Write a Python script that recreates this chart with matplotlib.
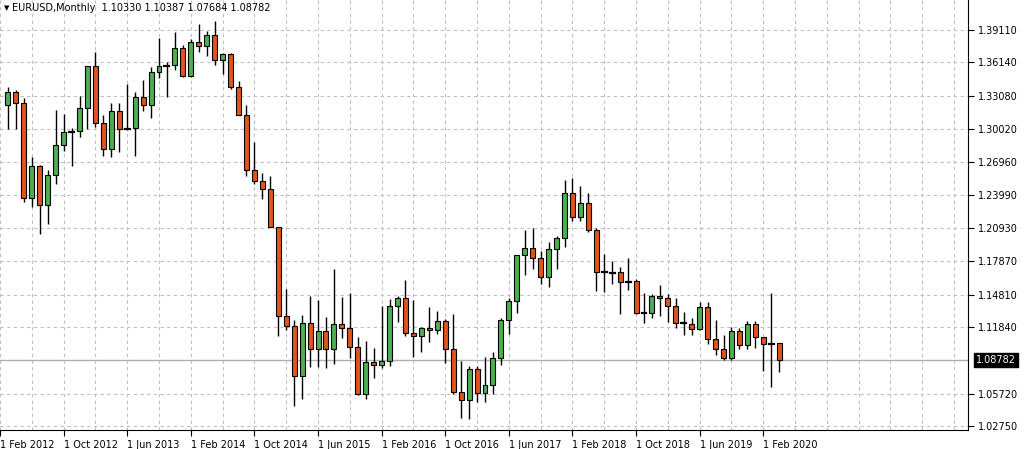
import matplotlib
matplotlib.use("Agg")
import matplotlib.pyplot as plt
from matplotlib.patches import Rectangle

# Monthly candles, Mar 2012 .. Apr 2020  (month index 1 = Mar 2012; 0 = Feb 2012)
opens = [1.3225,1.3340,1.3237,1.2365,1.2664,1.2307,1.2576,1.2859,1.2975,1.2985,
 1.3192,1.3578,1.3058,1.2815,1.3167,1.2998,1.3010,1.3300,1.3222,1.3524,1.3582,1.3590,
 1.3743,1.3486,1.3804,1.3768,1.3868,1.3634,1.3692,1.3389,1.3131,1.2629,1.2525,1.2452,
 1.2098,1.1289,1.1196,1.0731,1.1221,1.0986,1.1146,1.0985,1.1211,1.1177,1.1004,1.0566,
 1.0862,1.0831,1.0873,1.1379,1.1452,1.1131,1.1103,1.1174,1.1157,1.1241,1.0982,1.0588,
 1.0517,1.0797,1.0575,1.0652,1.0895,1.1244,1.1426,1.1842,1.1910,1.1814,1.1646,1.1904,
 1.2005,1.2414,1.2194,1.2324,1.2078,1.1693,1.1684,1.1691,1.1601,1.1604,1.1313,1.1315,
 1.1467,1.1447,1.1372,1.1218,1.1214,1.1168,1.1370,1.1076,1.0985,1.0898,1.1151,1.1017,
 1.1213,1.1093,1.1027,1.1033]
highs = [1.3385,1.3360,1.3284,1.2748,1.2668,1.2625,1.3172,1.3140,1.3010,1.3308,
 1.3579,1.3711,1.3129,1.3243,1.3242,1.3416,1.3345,1.3452,1.3568,1.3833,1.3620,1.3893,
 1.3775,1.3824,1.3967,1.3906,1.3993,1.3700,1.3700,1.3444,1.3222,1.2887,1.2601,1.2570,
 1.2105,1.1534,1.1245,1.1290,1.1467,1.1436,1.1278,1.1714,1.1460,1.1495,1.1095,1.1059,
 1.0987,1.1376,1.1438,1.1464,1.1616,1.1428,1.1186,1.1366,1.1327,1.1258,1.1300,1.0874,
 1.0829,1.0829,1.0906,1.0951,1.1268,1.1446,1.1846,1.2070,1.2092,1.1880,1.1961,1.2023,
 1.2537,1.2556,1.2476,1.2414,1.2096,1.1852,1.1790,1.1733,1.1815,1.1621,1.1500,1.1486,
 1.1570,1.1488,1.1448,1.1324,1.1264,1.1412,1.1412,1.1250,1.1109,1.1180,1.1175,1.1240,
 1.1239,1.1096,1.1495,1.1039]
lows = [1.3005,1.3000,1.2330,1.2288,1.2042,1.2134,1.2500,1.2800,1.2661,1.2927,
 1.3000,1.3020,1.2750,1.2745,1.2795,1.2995,1.2755,1.3170,1.3105,1.3470,1.3295,1.3548,
 1.3478,1.3477,1.3705,1.3673,1.3590,1.3503,1.3366,1.3130,1.2570,1.2499,1.2357,1.2098,
 1.1098,1.1160,1.0457,1.0520,1.0818,1.0819,1.0808,1.0848,1.1086,1.0896,1.0557,1.0524,
 1.0711,1.0810,1.0822,1.1233,1.1098,1.0912,1.0952,1.1045,1.1122,1.0852,1.0569,1.0352,
 1.0340,1.0494,1.0494,1.0570,1.0839,1.1119,1.1312,1.1662,1.1717,1.1574,1.1554,1.1717,
 1.1915,1.2153,1.2155,1.2055,1.1510,1.1508,1.1575,1.1301,1.1526,1.1302,1.1216,1.1269,
 1.1289,1.1234,1.1176,1.1110,1.1107,1.1160,1.1026,1.0926,1.0879,1.0880,1.0981,1.0981,
 1.0992,1.0777,1.0636,1.0768]
closes = opens[1:] + [1.08782]

price_ticks = [1.39110,1.36140,1.33080,1.30020,1.26960,1.23990,1.20930,1.17870,
               1.14810,1.11840,1.08780,1.05720,1.02750]
date_labels = ["1 Feb 2012","1 Oct 2012","1 Jun 2013","1 Feb 2014","1 Oct 2014",
               "1 Jun 2015","1 Feb 2016","1 Oct 2016","1 Jun 2017","1 Feb 2018",
               "1 Oct 2018","1 Jun 2019","1 Feb 2020"]
last_price = 1.08782
header = "EURUSD,Monthly  1.10330 1.10387 1.07684 1.08782"

W, H = 1034, 449
fig = plt.figure(figsize=(W/100, H/100), dpi=100)
fig.patch.set_facecolor("white")
ax = fig.add_axes([0, 1-430/H, 968/W, 430/H])
ax.set_facecolor("white")
ymax = 1.3911 + 30/1089
ymin = 1.3911 - 400/1089
ax.set_ylim(ymin, ymax)
ax.set_xlim(0.75, 121.75)

grid_kw = dict(color="#c0c0c0", lw=0.8, ls=(0, (3, 3)), zorder=0)
for p in price_ticks:
    ax.axhline(p, **grid_kw)
for m in range(0, 122, 4):
    ax.axvline(m, **grid_kw)
ax.axhline(last_price, color="#b0b0b0", lw=1.0, zorder=1)

bw = 5/8
for i, (o, h, l, c) in enumerate(zip(opens, highs, lows, closes)):
    m = i + 1
    ax.plot([m, m], [l, h], color="black", lw=1, zorder=2, solid_capstyle="butt")
    if abs(c - o) < 0.0012:
        ax.plot([m-bw/2, m+bw/2], [o, o], color="black", lw=1.6, zorder=3)
        continue
    col = "#4caf50" if c > o else "#e2531e"
    ax.add_patch(Rectangle((m-bw/2, min(o, c)), bw, abs(c-o), facecolor=col,
                           edgecolor="black", lw=0.8, zorder=3))

for s in ["top", "left"]:
    ax.spines[s].set_visible(False)
ax.spines["bottom"].set_color("black")
ax.spines["right"].set_color("black")
ax.yaxis.tick_right()
shown = [p for p in price_ticks if abs(p-last_price) > 0.005]
ax.set_yticks(shown)
ax.set_yticklabels([f"{p:.5f}" for p in shown])
ax.tick_params(axis="y", length=4, width=0.8, labelsize=7, pad=3, colors="black")
xt = [8*k for k in range(len(date_labels))]
ax.set_xticks(xt)
ax.set_xticklabels(date_labels, ha="left")
ax.tick_params(axis="x", length=4, width=0.8, labelsize=7, pad=3)

ax.text(1.0 + 8/968, last_price, f"{last_price:.5f}", transform=ax.get_yaxis_transform(),
        fontsize=7, color="white", va="center", ha="left",
        bbox=dict(boxstyle="square,pad=0.2", fc="black", ec="black"))
fig.text(4/W, 1-8/H, "\u25bc", fontsize=5, va="center", ha="left")
fig.text(12/W, 1-8/H, header, fontsize=7, va="center", ha="left")

fig.savefig("out.png", dpi=100)
